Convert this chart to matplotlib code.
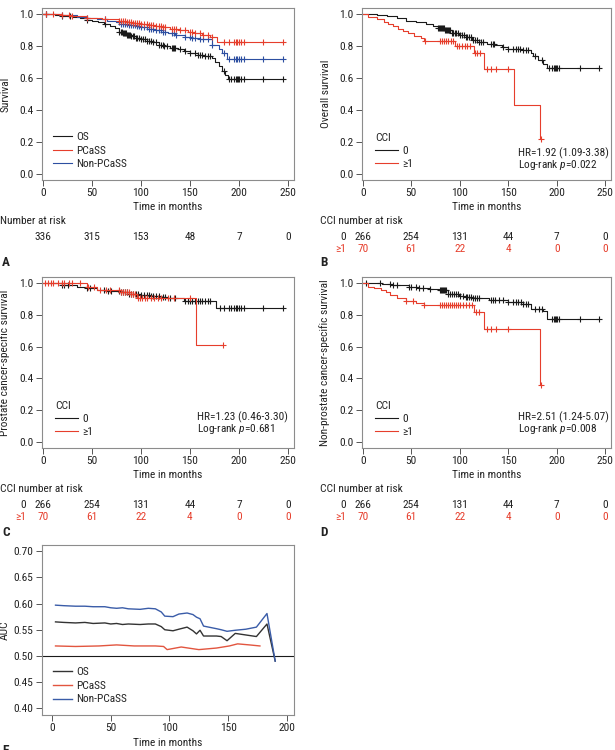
import numpy as np
import matplotlib
matplotlib.use('Agg')
import matplotlib.pyplot as plt
from matplotlib import transforms, font_manager
from matplotlib.lines import Line2D

# pick a narrow face if one is installed
names = {f.name for f in font_manager.fontManager.ttflist}
narrow = [n for n in ['Liberation Sans Narrow', 'DejaVu Sans Condensed', 'Roboto Condensed',
                      'Open Sans Condensed'] if n in names]
FAM = (narrow[:1] or ['Liberation Sans']) + ['DejaVu Sans']
FS = 8.2 if narrow else 7.0

plt.rcParams['font.family'] = FAM
plt.rcParams['mathtext.fontset'] = 'custom'
plt.rcParams['mathtext.it'] = FAM[0] + ':italic'
plt.rcParams['mathtext.rm'] = FAM[0]
plt.rcParams['font.size'] = FS
plt.rcParams['text.color'] = '#222222'
plt.rcParams['axes.edgecolor'] = '#8c8c8c'
plt.rcParams['xtick.color'] = '#555555'
plt.rcParams['ytick.color'] = '#555555'
plt.rcParams['xtick.labelcolor'] = '#222222'
plt.rcParams['ytick.labelcolor'] = '#222222'

RED = '#e63e2c'
BLUE = '#2d4fa1'
BLACK = '#1a1a1a'

# ---------------- data ----------------
risk_times = [0, 50, 100, 150, 200, 250]
risk_all = [336, 315, 153, 48, 7, 0]
risk_cci0 = [266, 254, 131, 44, 7, 0]
risk_cci1 = [70, 61, 22, 4, 0, 0]

# A: whole cohort
os_t = [0, 12, 20, 30, 38, 45, 50, 56, 62, 68, 74, 78, 82, 86, 90, 95, 100, 106, 112,
        118, 124, 130, 138, 144, 150, 158, 164, 172, 176, 180, 183, 186, 189]
os_s = [1.0, 0.995, 0.99, 0.985, 0.975, 0.965, 0.958, 0.95, 0.94, 0.93, 0.915, 0.89, 0.88,
        0.87, 0.862, 0.852, 0.843, 0.835, 0.825, 0.81, 0.80, 0.786, 0.78, 0.77, 0.76, 0.745,
        0.74, 0.725, 0.70, 0.675, 0.645, 0.62, 0.597]
os_c = [3, 20, 28, 45, 63, 78, 80, 81, 82, 83, 84, 85, 86, 87, 88, 89, 90, 92, 93, 95, 96,
        98, 100, 102, 104, 106, 108, 110, 112, 115, 118, 120, 122, 124, 127, 132, 133, 134,
        135, 140, 145, 150, 155, 158, 160, 162, 165, 168, 170, 185, 190, 192, 195, 197, 198,
        199, 200, 202, 205, 224, 245]

pcss_t = [0, 20, 30, 45, 60, 78, 85, 92, 100, 108, 115, 122, 130, 140, 148, 155, 162, 170, 178]
pcss_s = [1.0, 0.995, 0.99, 0.98, 0.97, 0.96, 0.955, 0.948, 0.94, 0.932, 0.925, 0.918, 0.91,
          0.9, 0.89, 0.88, 0.87, 0.86, 0.828]
pcss_c = [3, 10, 20, 27, 30, 45, 63, 78, 80, 82, 84, 86, 88, 90, 92, 94, 96, 98, 100, 103,
          106, 108, 110, 112, 115, 118, 120, 122, 125, 132, 134, 136, 140, 145, 150, 152, 155,
          160, 163, 168, 172, 185, 190, 195, 197, 198, 200, 202, 205, 224, 245]

npc_t = [0, 20, 35, 45, 55, 65, 75, 80, 88, 95, 100, 108, 115, 122, 128, 135, 145, 152, 160,
         172, 180, 183, 188]
npc_s = [1.0, 0.995, 0.985, 0.975, 0.968, 0.96, 0.953, 0.94, 0.932, 0.925, 0.92, 0.91, 0.9,
         0.89, 0.88, 0.87, 0.86, 0.853, 0.845, 0.81, 0.785, 0.76, 0.722]
npc_c = [3, 20, 45, 63, 78, 80, 82, 84, 86, 88, 90, 92, 94, 96, 98, 100, 103, 106, 108, 110,
         112, 115, 118, 120, 122, 125, 132, 134, 136, 145, 150, 152, 155, 160, 163, 168, 172,
         185, 190, 195, 197, 198, 200, 202, 205, 224, 245]

# B: overall survival by CCI
os0_t = [0, 15, 25, 35, 45, 55, 65, 72, 78, 85, 92, 99, 106, 113, 120, 128, 136, 144, 150,
         165, 173, 176, 181, 186, 190]
os0_s = [1.0, 0.995, 0.99, 0.975, 0.96, 0.95, 0.94, 0.93, 0.915, 0.9, 0.885, 0.87, 0.855,
         0.84, 0.828, 0.815, 0.805, 0.795, 0.785, 0.778, 0.76, 0.74, 0.715, 0.69, 0.663]
os0_c = [78, 79, 80, 81, 82, 83, 84, 85, 86, 87, 88, 89, 90, 92, 93, 95, 96, 98, 100, 102,
         104, 106, 108, 110, 112, 114, 116, 118, 120, 122, 124, 132, 134, 135, 145, 150, 155,
         158, 160, 162, 165, 168, 170, 178, 185, 192, 195, 197, 198, 199, 200, 202, 224, 244]
os1_t = [0, 5, 15, 22, 26, 31, 36, 41, 47, 53, 60, 63, 95, 115, 125, 156, 183]
os1_s = [1.0, 0.985, 0.97, 0.955, 0.94, 0.925, 0.91, 0.895, 0.88, 0.865, 0.85, 0.83, 0.80,
         0.755, 0.655, 0.432, 0.22]
os1_c = [64, 80, 82, 84, 86, 88, 91, 93, 97, 99, 102, 105, 108, 111, 116, 118, 121, 128, 132,
         137, 150, 184]

# C: prostate cancer-specific survival by CCI
pc0_t = [0, 20, 35, 45, 55, 66, 79, 88, 100, 110, 120, 127, 144, 177]
pc0_s = [1.0, 0.99, 0.98, 0.97, 0.96, 0.95, 0.943, 0.935, 0.928, 0.92, 0.915, 0.91, 0.89, 0.844]
pc0_c = [20, 22, 26, 45, 48, 62, 66, 70, 78, 80, 82, 84, 86, 88, 90, 92, 95, 97, 100, 103,
         106, 108, 110, 112, 115, 118, 122, 125, 130, 135, 145, 148, 150, 152, 155, 158, 160,
         162, 165, 168, 170, 181, 185, 190, 192, 195, 197, 198, 200, 202, 205, 224, 245]
pc1_t = [0, 45, 55, 80, 90, 96, 156]
pc1_s = [1.0, 0.98, 0.96, 0.945, 0.93, 0.907, 0.61]
pc1_c = [2, 5, 8, 10, 15, 20, 22, 27, 30, 38, 46, 52, 58, 64, 68, 78, 80, 82, 84, 86, 88, 90,
         92, 94, 97, 99, 101, 104, 106, 110, 113, 117, 120, 128, 134, 150, 184]

# D: non-prostate cancer-specific survival by CCI
nc0_t = [0, 20, 30, 48, 58, 69, 79, 88, 99, 106, 113, 130, 150, 165, 174, 186, 190]
nc0_s = [1.0, 0.995, 0.99, 0.98, 0.972, 0.964, 0.955, 0.935, 0.92, 0.912, 0.907, 0.897, 0.88,
         0.87, 0.835, 0.823, 0.774]
nc0_c = [3, 18, 28, 31, 35, 48, 50, 55, 58, 62, 69, 80, 81, 82, 83, 84, 85, 86, 88, 90, 92,
         94, 96, 98, 100, 103, 106, 108, 110, 112, 114, 116, 118, 120, 132, 134, 136, 140, 145,
         150, 155, 158, 160, 163, 165, 168, 170, 178, 182, 185, 195, 197, 198, 199, 200, 202,
         224, 244]
nc1_t = [0, 5, 12, 19, 24, 28, 35, 45, 55, 63, 115, 125, 183]
nc1_s = [1.0, 0.98, 0.97, 0.96, 0.945, 0.928, 0.91, 0.89, 0.875, 0.865, 0.816, 0.713, 0.359]
nc1_c = [45, 52, 63, 80, 82, 84, 86, 88, 90, 92, 94, 96, 98, 100, 103, 106, 110, 113, 117,
         120, 128, 132, 137, 150, 184]

# E: time-dependent AUC
auc_t = [3, 10, 20, 28, 35, 45, 50, 55, 60, 65, 75, 82, 88, 93, 96, 103, 108, 115, 120, 123,
         126, 129, 140, 144, 149, 156, 165, 174, 183, 190]
auc_os = [0.565, 0.564, 0.563, 0.564, 0.562, 0.563, 0.561, 0.562, 0.560, 0.561, 0.560, 0.561,
          0.561, 0.556, 0.550, 0.548, 0.551, 0.555, 0.548, 0.542, 0.549, 0.538, 0.538, 0.537,
          0.529, 0.543, 0.540, 0.537, 0.561, 0.490]
auc_npc = [0.597, 0.596, 0.595, 0.595, 0.594, 0.594, 0.592, 0.591, 0.592, 0.590, 0.589, 0.591,
           0.590, 0.584, 0.576, 0.575, 0.580, 0.582, 0.579, 0.574, 0.571, 0.557, 0.552, 0.550,
           0.547, 0.549, 0.551, 0.555, 0.581, 0.490]
auc_pc_t = [3, 20, 40, 55, 70, 88, 95, 98, 110, 125, 140, 151, 158, 168, 177]
auc_pc = [0.519, 0.518, 0.519, 0.521, 0.519, 0.519, 0.518, 0.512, 0.517, 0.512, 0.515, 0.519,
          0.523, 0.521, 0.519]

# ---------------- figure ----------------
W, H = 615, 750
fig = plt.figure(figsize=(6.15, 7.5), dpi=100)


def fx(px):
    return px / W


def fy(py):
    return 1 - py / H


def add_ax(l, t, r, b):
    return fig.add_axes([fx(l), fy(b), fx(r - l), (b - t) / H])


def km(ax, t, s, cens, color):
    t = np.asarray(t, float)
    s = np.asarray(s, float)
    end = max(t[-1], max(cens))
    ax.step(np.append(t, end), np.append(s, s[-1]), where='post', color=color, lw=0.8)
    idx = np.searchsorted(t, cens, side='right') - 1
    ax.plot(cens, s[idx], ls='none', marker='+', ms=5, mew=0.8, color=color)


def style(ax):
    ax.tick_params(direction='out', length=4, width=0.7, pad=2)
    for sp in ax.spines.values():
        sp.set_linewidth(0.8)


def km_axes(ax, ylabel, ylab_x, top, bottom):
    ax.set_xlim(-0.8, 256)
    ax.set_ylim(-0.04, 1.04)
    ax.set_xticks(risk_times)
    ax.set_yticks(np.arange(0, 1.01, 0.2))
    ax.set_yticklabels(['%.1f' % v for v in np.arange(0, 1.01, 0.2)])
    style(ax)
    fig.text(fx(ylab_x), fy((top + bottom) / 2), ylabel, rotation=90,
             ha='center', va='center')
    pos = ax.get_position()
    fig.text((pos.x0 + pos.x1) / 2, fy(bottom + 27), 'Time in months', ha='center',
             va='center')


def risk_table(ax, bottom, title_x, rows):
    tr = transforms.blended_transform_factory(ax.transData, fig.transFigure)
    fig.text(fx(title_x), fy(bottom + 41), 'CCI number at risk', ha='left', va='center')
    for k, (label, vals, col) in enumerate(rows):
        y = fy(bottom + 57 + 12 * k)
        for t, v in zip(risk_times, vals):
            ax.text(t, y, str(v), transform=tr, ha='center', va='center', color=col)
        fig.text(ax.get_position().x0 - fx(16), y, label, ha='right', va='center', color=col)


def cci_legend(ax, x0):
    h = [Line2D([], [], color=BLACK, lw=0.8), Line2D([], [], color=RED, lw=0.8)]
    ax.legend(h, ['0', '\u22651'], title='CCI', loc='lower left',
              bbox_to_anchor=(x0, 0.035), frameon=False, handlelength=2.0,
              handletextpad=0.4, labelspacing=0.3, borderaxespad=0,
              alignment='left', fontsize=FS, title_fontsize=FS)


def hr_text(ax, y1, y2, x, hr, p):
    ax.text(x, y1, hr, transform=ax.transAxes, va='center')
    ax.text(x, y2, 'Log-rank $p$=' + p, transform=ax.transAxes, va='center')


# ---- A ----
axA = add_ax(42, 8, 294, 180)
km(axA, os_t, os_s, os_c, BLACK)
km(axA, npc_t, npc_s, npc_c, BLUE)
km(axA, pcss_t, pcss_s, pcss_c, RED)
km_axes(axA, 'Survival', 6, 8, 180)
axA.legend([Line2D([], [], color=BLACK, lw=0.8), Line2D([], [], color=RED, lw=0.8),
            Line2D([], [], color=BLUE, lw=0.8)], ['OS', 'PCaSS', 'Non-PCaSS'],
           loc='lower left', bbox_to_anchor=(0.025, 0.035), frameon=False, handlelength=1.7,
           handletextpad=0.35, labelspacing=0.33, borderaxespad=0, fontsize=FS)
trA = transforms.blended_transform_factory(axA.transData, fig.transFigure)
fig.text(fx(0), fy(221), 'Number at risk', ha='left', va='center')
for t, v in zip(risk_times, risk_all):
    axA.text(t, fy(237), str(v), transform=trA, ha='center', va='center')
fig.text(fx(2), fy(263), 'A', fontweight='bold', fontsize=9.5, ha='left', va='center')

# ---- B ----
axB = add_ax(362, 8, 611, 180)
km(axB, os0_t, os0_s, os0_c, BLACK)
km(axB, os1_t, os1_s, os1_c, RED)
km_axes(axB, 'Overall survival', 326, 8, 180)
cci_legend(axB, 0.035)
hr_text(axB, 0.157, 0.087, 0.625, 'HR=1.92 (1.09-3.38)', '0.022')
risk_table(axB, 180, 320, [('0', risk_cci0, '#222222'), ('\u22651', risk_cci1, RED)])
fig.text(fx(320), fy(263), 'B', fontweight='bold', fontsize=9.5, ha='left', va='center')

# ---- C ----
axC = add_ax(42, 277, 294, 448)
km(axC, pc0_t, pc0_s, pc0_c, BLACK)
km(axC, pc1_t, pc1_s, pc1_c, RED)
km_axes(axC, 'Prostate cancer-specific survival', 5, 277, 448)
cci_legend(axC, 0.035)
hr_text(axC, 0.181, 0.111, 0.615, 'HR=1.23 (0.46-3.30)', '0.681')
risk_table(axC, 448, 0, [('0', risk_cci0, '#222222'), ('\u22651', risk_cci1, RED)])
fig.text(fx(2), fy(532), 'C', fontweight='bold', fontsize=9.5, ha='left', va='center')

# ---- D ----
axD = add_ax(362, 277, 611, 448)
km(axD, nc0_t, nc0_s, nc0_c, BLACK)
km(axD, nc1_t, nc1_s, nc1_c, RED)
km_axes(axD, 'Non-prostate cancer-specific survival', 325, 277, 448)
cci_legend(axD, 0.035)
hr_text(axD, 0.181, 0.111, 0.625, 'HR=2.51 (1.24-5.07)', '0.008')
risk_table(axD, 448, 320, [('0', risk_cci0, '#222222'), ('\u22651', risk_cci1, RED)])
fig.text(fx(320), fy(532), 'D', fontweight='bold', fontsize=9.5, ha='left', va='center')

# ---- E ----
axE = add_ax(42, 545, 294, 715)
axE.axhline(0.5, color=BLACK, lw=0.8)
axE.plot(auc_t, auc_os, color='#333333', lw=1.0, label='OS')
axE.plot(auc_pc_t, auc_pc, color='#e2553f', lw=1.0, label='PCaSS')
axE.plot(auc_t, auc_npc, color='#3a5ca8', lw=1.0, label='Non-PCaSS')
axE.set_xlim(-8.5, 206)
axE.set_ylim(0.387, 0.712)
axE.set_xticks([0, 50, 100, 150, 200])
yt = np.arange(0.40, 0.701, 0.05)
axE.set_yticks(yt)
axE.set_yticklabels(['%.2f' % v for v in yt])
style(axE)
axE.legend(loc='lower left', bbox_to_anchor=(0.025, 0.035), frameon=False, handlelength=1.7,
           handletextpad=0.35, labelspacing=0.33, borderaxespad=0, fontsize=FS)
fig.text(fx(5), fy(630), 'AUC', rotation=90, ha='center', va='center')
fig.text(fx(168), fy(743), 'Time in months', ha='center', va='center')
fig.text(fx(2), fy(751), 'E', fontweight='bold', fontsize=9.5, ha='left', va='center')

fig.savefig('out.png', dpi=100)
